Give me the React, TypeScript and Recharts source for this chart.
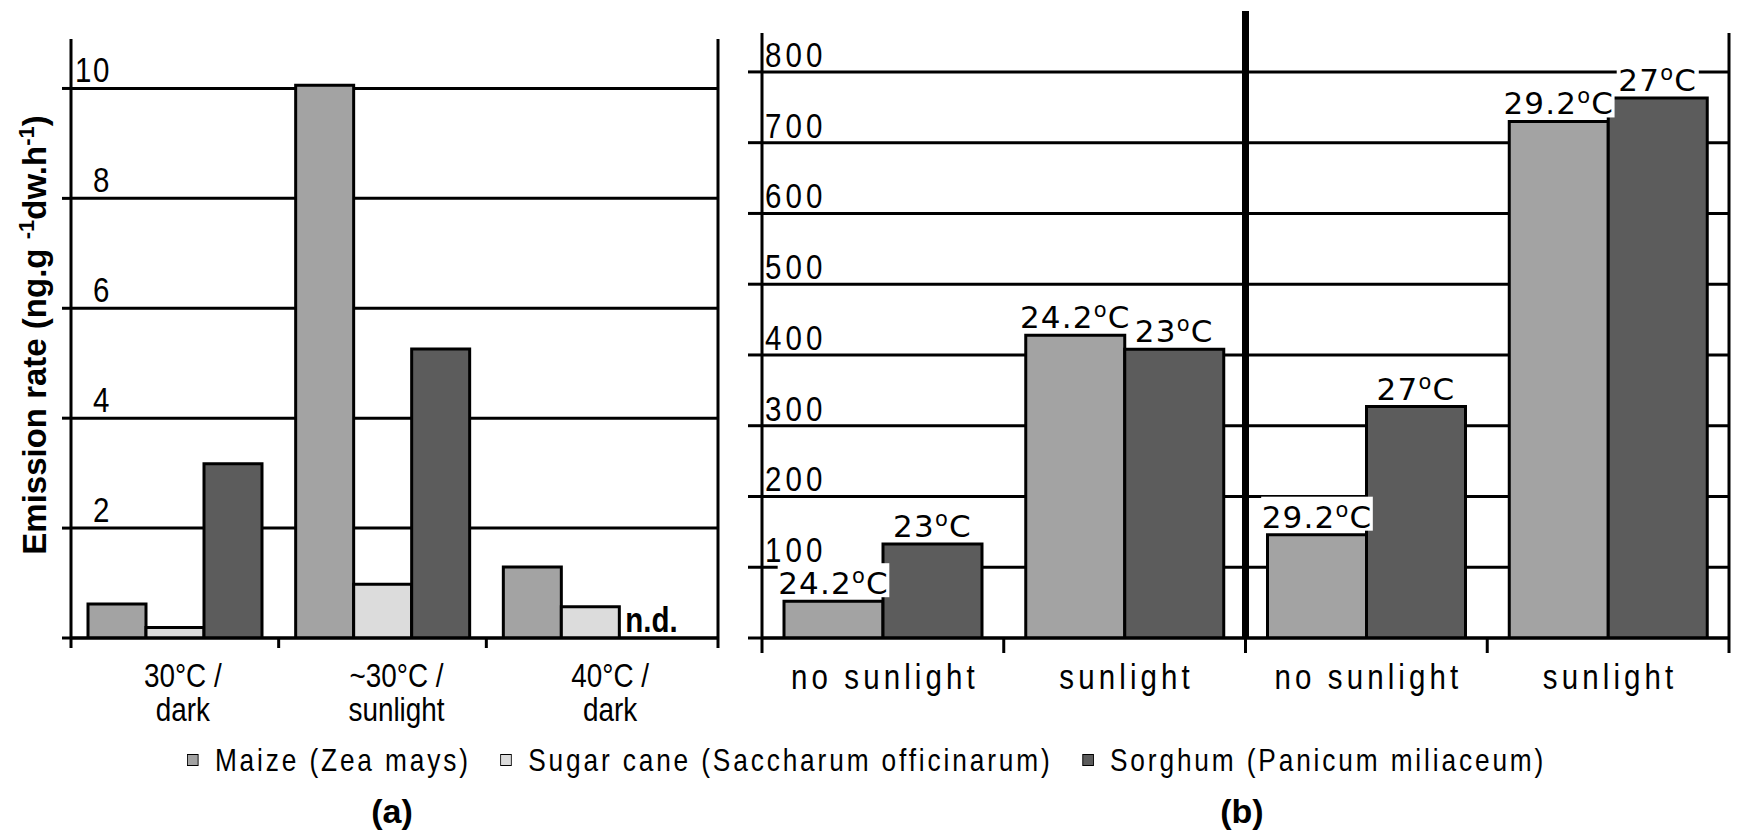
import React from "react";
import { BarChart, Bar, XAxis, YAxis, CartesianGrid, LabelList, ReferenceLine } from "recharts";

// ---------- data ----------
const categoriesA = ["30°C /\ndark", "~30°C /\nsunlight", "40°C /\ndark"];
const maizeA = [0.62, 10.06, 1.29];
const sugarA = [0.19, 0.98, 0.57];
const sorghumA = [3.17, 5.26, 0];
const notesA = ["", "", "n.d."];
const ticksA = [0, 2, 4, 6, 8, 10];

const categoriesB = ["no sunlight", "sunlight", "no sunlight", "sunlight"];
const maizeB = [52, 428, 146, 730];
const sorghumB = [133, 408, 327, 763];
const maizeTempB = ["24.2", "24.2", "29.2", "29.2"];
const sorghumTempB = ["23", "23", "27", "27"];
const ticksB = [0, 100, 200, 300, 400, 500, 600, 700, 800];

const seriesNames = ["Maize (Zea mays)", "Sugar cane (Saccharum officinarum)", "Sorghum (Panicum miliaceum)"];
const seriesColors = ["#a3a3a3", "#dcdcdc", "#5c5c5c"];
const captions = ["(a)", "(b)"];
const yLabelParts = ["Emission rate (ng.g ", "-1", "dw.h", "-1", ")"];

const dataA = categoriesA.map((name, i) => ({
  name,
  maize: maizeA[i],
  sugar: sugarA[i],
  sorghum: sorghumA[i],
  note: notesA[i],
}));

const dataB = categoriesB.map((name, i) => ({
  name,
  maize: maizeB[i],
  sorghum: sorghumB[i],
  maizeT: maizeTempB[i],
  sorghumT: sorghumTempB[i],
}));

// ---------- styles ----------
const SANS = "'Liberation Sans', Arial, sans-serif";
const TEMPFONT = "'DejaVu Sans', 'Liberation Sans', sans-serif";
const BLACK = "#000";
const SX = 0.82;
const lineStyle = { stroke: BLACK, strokeWidth: 3 };
const PAD_A = 24;

const NText = ({ x, y, anchor = "start", size = 36, spacing = 0, bold = false, children }: any) => (
  <text
    transform={`translate(${x} ${y}) scale(${SX} 1)`}
    textAnchor={anchor}
    fontFamily={SANS}
    fontSize={size}
    fontWeight={bold ? "bold" : "normal"}
    letterSpacing={spacing}
    fill={BLACK}
  >
    {children}
  </text>
);

// ---------- custom ticks / labels ----------
const AXTick = (props: any) => {
  const { x, y, payload, index, visibleTicksCount } = props;
  const off = payload.offset ?? 0;
  const lines = String(payload.value).split("\n");
  const last = visibleTicksCount ? index === visibleTicksCount - 1 : index === categoriesA.length - 1;
  return (
    <g>
      <line x1={x - off} x2={x - off} y1={y} y2={y + 10} stroke={BLACK} strokeWidth={3} />
      {last && <line x1={x + off + PAD_A} x2={x + off + PAD_A} y1={y} y2={y + 10} stroke={BLACK} strokeWidth={3} />}
      {lines.map((l, i) => (
        <NText key={i} x={x + 8 + index * 6} y={y + 49 + i * 34} anchor="middle" size={34}>
          {l}
        </NText>
      ))}
    </g>
  );
};

const BXTick = (props: any) => {
  const { x, y, payload, index, visibleTicksCount } = props;
  const off = payload.offset ?? 0;
  const last = visibleTicksCount ? index === visibleTicksCount - 1 : index === categoriesB.length - 1;
  return (
    <g>
      <line x1={x - off} x2={x - off} y1={y} y2={y + 15} stroke={BLACK} strokeWidth={3} />
      {last && <line x1={x + off} x2={x + off} y1={y} y2={y + 15} stroke={BLACK} strokeWidth={3} />}
      <NText x={x + 2} y={y + 51} anchor="middle" size={36} spacing={5}>
        {payload.value}
      </NText>
    </g>
  );
};

const AYTick = (props: any) => {
  const { x, y, payload } = props;
  if (payload.value === 0) return null;
  return (
    <NText x={x + 49} y={y - 6} anchor="end" size={36} spacing={2}>
      {payload.value}
    </NText>
  );
};

const BYTick = (props: any) => {
  const { x, y, payload } = props;
  if (payload.value === 0) return null;
  return (
    <NText x={x + 17} y={y - 5} anchor="start" size={36} spacing={5}>
      {payload.value}
    </NText>
  );
};

const NdLabel = (props: any) => {
  const { x, y, width, height, value } = props;
  if (!value) return null;
  return (
    <NText x={x + width + 6} y={y + height - 6} bold size={36}>
      {value}
    </NText>
  );
};

const TempLabel = (props: any) => {
  const { x, y, width, value } = props;
  if (!value) return null;
  const s = String(value);
  const digits = s.replace(/[^0-9]/g, "").length;
  const dots = s.length - digits;
  const w = (digits * 0.636 + dots * 0.318 + 0.698) * 31 + 17;
  const cx = x + width / 2;
  const by = y - 7;
  return (
    <g>
      <rect x={cx - w / 2 - 2} y={by - 31} width={w + 4} height={34} fill="#fff" />
      <text x={cx} y={by} textAnchor="middle" fontFamily={TEMPFONT} fontSize={31} letterSpacing={1.2} fill={BLACK}>
        {s}
        <tspan fontSize={21} dy={-11}>
          o
        </tspan>
        <tspan dy={11}>C</tspan>
      </text>
    </g>
  );
};

const SeparatorShape = (p: any) => {
  const x1 = p.x1 ?? 0;
  const x2 = p.x2 ?? x1;
  const top = Math.min(p.y1, p.y2) - 22;
  const bottom = Math.max(p.y1, p.y2);
  return <line x1={x1} x2={x2} y1={top} y2={bottom} stroke={BLACK} strokeWidth={7} />;
};

// ---------- component ----------
export default function App() {
  return (
    <div
      style={{
        position: "absolute",
        left: 0,
        top: 0,
        width: 1737,
        height: 835,
        background: "#fff",
        overflow: "hidden",
      }}
    >
      {/* Chart (a) */}
      <div style={{ position: "absolute", left: 0, top: 0 }}>
        <BarChart width={740} height={740} data={dataA} margin={{ top: 39, right: 21, bottom: 32, left: 51 }} barGap={0}>
          <CartesianGrid vertical={false} stroke={BLACK} strokeWidth={3} syncWithTicks />
          <XAxis
            dataKey="name"
            padding={{ left: 0, right: PAD_A }}
            tickLine={false}
            tickSize={0}
            tickMargin={0}
            axisLine={lineStyle}
            height={70}
            interval={0}
            tick={<AXTick />}
          />
          <YAxis
            domain={[0, 10.9]}
            ticks={ticksA}
            interval={0}
            width={20}
            axisLine={lineStyle}
            tickLine={lineStyle}
            tickSize={9}
            tickMargin={0}
            tick={<AYTick />}
            allowDataOverflow
          />
          <YAxis yAxisId="r" orientation="right" domain={[0, 10.9]} width={1} tick={false} tickLine={false} axisLine={lineStyle} />
          <Bar dataKey="maize" fill={seriesColors[0]} stroke={BLACK} strokeWidth={3} barSize={58} isAnimationActive={false} />
          <Bar dataKey="sugar" fill={seriesColors[1]} stroke={BLACK} strokeWidth={3} barSize={58} isAnimationActive={false}>
            <LabelList dataKey="note" content={<NdLabel />} />
          </Bar>
          <Bar dataKey="sorghum" fill={seriesColors[2]} stroke={BLACK} strokeWidth={3} barSize={58} isAnimationActive={false} />
        </BarChart>
      </div>

      {/* Chart (b) */}
      <div style={{ position: "absolute", left: 740, top: 0 }}>
        <BarChart width={997} height={740} data={dataB} margin={{ top: 33, right: 7, bottom: 32, left: 2 }} barGap={0}>
          <CartesianGrid vertical={false} stroke={BLACK} strokeWidth={3} syncWithTicks />
          <XAxis
            dataKey="name"
            tickLine={false}
            tickSize={0}
            tickMargin={0}
            axisLine={lineStyle}
            height={70}
            interval={0}
            tick={<BXTick />}
          />
          <YAxis
            domain={[0, 855]}
            ticks={ticksB}
            interval={0}
            width={20}
            axisLine={lineStyle}
            tickLine={lineStyle}
            tickSize={14}
            tickMargin={0}
            tick={<BYTick />}
            allowDataOverflow
          />
          <YAxis
            yAxisId="r"
            orientation="right"
            domain={[0, 855]}
            ticks={ticksB}
            interval={0}
            width={1}
            tick={false}
            tickLine={lineStyle}
            tickSize={8}
            axisLine={lineStyle}
          />
          <Bar dataKey="maize" fill={seriesColors[0]} stroke={BLACK} strokeWidth={3} barSize={99} isAnimationActive={false}>
            <LabelList dataKey="maizeT" content={<TempLabel />} />
          </Bar>
          <Bar dataKey="sorghum" fill={seriesColors[2]} stroke={BLACK} strokeWidth={3} barSize={99} isAnimationActive={false}>
            <LabelList dataKey="sorghumT" content={<TempLabel />} />
          </Bar>
          <ReferenceLine x={2} position="start" stroke={BLACK} strokeWidth={7} ifOverflow="visible" shape={SeparatorShape} />
        </BarChart>
      </div>

      {/* Y axis title of (a) */}
      <svg width={80} height={720} style={{ position: "absolute", left: 0, top: 0, pointerEvents: "none" }}>
        <text
          x={46}
          y={335}
          transform="rotate(-90 46 335)"
          textAnchor="middle"
          fontFamily={SANS}
          fontWeight="bold"
          fontSize={33}
          fill={BLACK}
        >
          {yLabelParts[0]}
          <tspan fontSize={22} dy={-12}>
            {yLabelParts[1]}
          </tspan>
          <tspan dy={12}>{yLabelParts[2]}</tspan>
          <tspan fontSize={22} dy={-12}>
            {yLabelParts[3]}
          </tspan>
          <tspan dy={12}>{yLabelParts[4]}</tspan>
        </text>
      </svg>

      {/* Legend */}
      <div style={{ position: "absolute", left: 187, top: 742 }}>
        <div
          style={{
            display: "flex",
            alignItems: "center",
            fontFamily: SANS,
            fontSize: 32,
            lineHeight: "36px",
            letterSpacing: 3.5,
            color: BLACK,
            whiteSpace: "nowrap",
            transform: `scaleX(${SX})`,
            transformOrigin: "0 50%",
          }}
        >
          {seriesNames.map((n, i) => (
            <div key={n} style={{ display: "flex", alignItems: "center", marginRight: 36 }}>
              <span
                style={{
                  display: "inline-block",
                  width: 12,
                  height: 10,
                  border: "1.5px solid #000",
                  background: seriesColors[i],
                  marginRight: 20,
                }}
              />
              <span>{n}</span>
            </div>
          ))}
        </div>
      </div>

      {/* Captions */}
      {captions.map((c, i) => (
        <div
          key={c}
          style={{
            position: "absolute",
            left: i === 0 ? 342 : 1192,
            top: 791,
            width: 100,
            textAlign: "center",
            fontFamily: SANS,
            fontWeight: "bold",
            fontSize: 34,
            lineHeight: "40px",
            color: BLACK,
          }}
        >
          {c}
        </div>
      ))}
    </div>
  );
}
